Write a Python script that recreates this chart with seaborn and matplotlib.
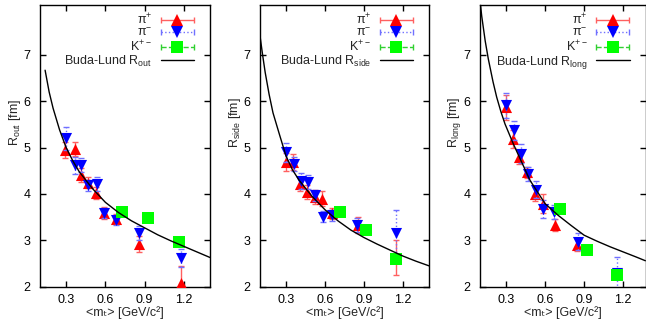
import numpy as np
import pandas as pd
import matplotlib
matplotlib.use('Agg')
import matplotlib.pyplot as plt
import seaborn as sns
from matplotlib.lines import Line2D
from matplotlib.collections import LineCollection
from matplotlib.container import ErrorbarContainer
from matplotlib.legend_handler import HandlerErrorbar

# ---------------- data ----------------
# Panel 1: R_out
pip_mt_out = [0.294, 0.364, 0.41, 0.464, 0.526, 0.588, 0.681, 0.86, 1.178]
pip_R_out = [4.95, 4.97, 4.41, 4.24, 4.02, 3.59, 3.46, 2.92, 2.09]
pip_e_out = [0.18, 0.15, 0.15, 0.12, 0.13, 0.12, 0.10, 0.17, 0.35]
pim_mt_out = [0.30, 0.364, 0.41, 0.464, 0.534, 0.59, 0.68, 0.86, 1.178]
pim_R_out = [5.20, 4.62, 4.62, 4.19, 4.21, 3.59, 3.44, 3.16, 2.62]
pim_e_out = [0.25, 0.18, 0.15, 0.12, 0.15, 0.10, 0.10, 0.15, 0.20]
k_mt_out = [0.728, 0.929, 1.162]
k_R_out = [3.61, 3.48, 2.97]
bl_mt_out = [0.139, 0.17, 0.2, 0.25, 0.3, 0.35, 0.4, 0.5, 0.6, 0.7, 0.8, 0.9, 1.0, 1.1, 1.2, 1.3, 1.4]
bl_R_out = [6.67, 6.20, 5.85, 5.38, 5.00, 4.72, 4.48, 4.12, 3.82, 3.60, 3.42, 3.27, 3.12, 2.99, 2.87, 2.75, 2.63]

# Panel 2: R_side
pip_mt_side = [0.30, 0.356, 0.407, 0.463, 0.522, 0.578, 0.655, 0.854, 1.148]
pip_R_side = [4.69, 4.69, 4.22, 4.04, 3.94, 3.90, 3.58, 3.33, 2.63]
pip_e_side = [0.20, 0.18, 0.15, 0.15, 0.15, 0.17, 0.12, 0.18, 0.38]
pim_mt_side = [0.30, 0.361, 0.415, 0.471, 0.522, 0.586, 0.65, 0.849, 1.148]
pim_R_side = [4.90, 4.65, 4.28, 4.26, 3.97, 3.51, 3.54, 3.33, 3.16]
pim_e_side = [0.20, 0.15, 0.18, 0.15, 0.12, 0.12, 0.12, 0.15, 0.50]
k_mt_side = [0.713, 0.918, 1.148]
k_R_side = [3.61, 3.23, 2.59]
bl_mt_side = [0.1, 0.12, 0.14, 0.17, 0.2, 0.25, 0.3, 0.35, 0.4, 0.5, 0.6, 0.7, 0.8, 0.9, 1.0, 1.1, 1.2, 1.3, 1.4]
bl_R_side = [7.41, 7.00, 6.62, 6.15, 5.75, 5.28, 4.82, 4.52, 4.30, 3.95, 3.66, 3.42, 3.22, 3.06, 2.92, 2.79, 2.66, 2.55, 2.45]

# Panel 3: R_long
pip_mt_long = [0.30, 0.356, 0.403, 0.464, 0.523, 0.587, 0.677, 0.844]
pip_R_long = [5.87, 5.19, 4.80, 4.47, 4.00, 3.79, 3.33, 2.91]
pip_e_long = [0.27, 0.20, 0.15, 0.12, 0.15, 0.20, 0.12, 0.15]
pim_mt_long = [0.30, 0.362, 0.413, 0.467, 0.531, 0.587, 0.669, 0.851, 1.155]
pim_R_long = [5.91, 5.37, 4.87, 4.44, 4.09, 3.68, 3.61, 2.97, 2.30]
pim_e_long = [0.27, 0.20, 0.20, 0.15, 0.18, 0.20, 0.15, 0.18, 0.35]
k_mt_long = [0.715, 0.921, 1.151]
k_R_long = [3.68, 2.80, 2.25]
bl_mt_long = [0.105, 0.113, 0.14, 0.164, 0.2, 0.228, 0.26, 0.292, 0.356, 0.408, 0.485, 0.6, 0.7, 0.8, 0.9, 1.0, 1.1, 1.2, 1.3, 1.37]
bl_R_long = [8.05, 7.84, 7.30, 6.91, 6.42, 6.09, 5.78, 5.51, 5.08, 4.76, 4.29, 3.79, 3.54, 3.32, 3.11, 2.98, 2.86, 2.75, 2.64, 2.56]

panel_names = ['out', 'side', 'long']
series_labels = ['π$^{+}$', 'π$^{-}$', 'K$^{+-}$']
x_label = '<mₜ> [GeV/c²]'
xticks = [0.3, 0.6, 0.9, 1.2]
xtick_labels = ['0.3', '0.6', '0.9', '1.2']
yticks = [2, 3, 4, 5, 6, 7]

panels = [
    (pip_mt_out, pip_R_out, pip_e_out, pim_mt_out, pim_R_out, pim_e_out, k_mt_out, k_R_out, bl_mt_out, bl_R_out),
    (pip_mt_side, pip_R_side, pip_e_side, pim_mt_side, pim_R_side, pim_e_side, k_mt_side, k_R_side, bl_mt_side, bl_R_side),
    (pip_mt_long, pip_R_long, pip_e_long, pim_mt_long, pim_R_long, pim_e_long, k_mt_long, k_R_long, bl_mt_long, bl_R_long),
]

# ---------------- style ----------------
sns.set_theme(style='ticks')
plt.rcParams['font.family'] = ['Liberation Sans', 'DejaVu Sans']
plt.rcParams['mathtext.fontset'] = 'custom'
plt.rcParams['mathtext.rm'] = 'Liberation Sans'
plt.rcParams['mathtext.it'] = 'Liberation Sans:italic'
plt.rcParams['mathtext.bf'] = 'Liberation Sans:bold'
plt.rcParams['mathtext.sf'] = 'Liberation Sans'
plt.rcParams['mathtext.default'] = 'regular'

FS = 9
W, H = 646, 320
fig = plt.figure(figsize=(W / 100, H / 100), dpi=100)
fig.patch.set_facecolor('white')

# axes boxes in pixels: left, right, top, bottom
boxes = [(40, 210, 5.3, 286.7), (260, 429, 5.3, 286.7), (480, 645.5, 5.3, 286.7)]
xlims = [(0.1, 1.4), (0.1, 1.4), (0.1, 1.371)]

RED, BLUE, GREEN = '#ff0000', '#0000ff', '#00ff00'
RED_E, BLUE_E, GREEN_E = '#ff6060', '#7070ff', '#30d030'


def proxy(color, marker, ecolor, ls):
    line = Line2D([], [], color=color, marker=marker, ls='none', ms=8.0, mew=0)
    bar = LineCollection([], colors=ecolor, linestyles=ls, linewidths=1.0)
    cap = Line2D([], [], color=ecolor, marker='|', ms=5, ls='none', mew=1.0)
    return ErrorbarContainer((line, (cap,), (bar,)), has_xerr=True, has_yerr=False)


for i, (name, data, box, xl) in enumerate(zip(panel_names, panels, boxes, xlims)):
    (pmt, pR, pe, mmt, mR, me, kmt, kR, bmt, bR) = data
    l, r, t, b = box
    ax = fig.add_axes([l / W, (H - b) / H, (r - l) / W, (b - t) / H])
    ax.set_facecolor('white')

    # pi+
    ax.errorbar(pmt, pR, yerr=pe, fmt='none', ecolor=RED_E, elinewidth=1.0,
                capsize=2.5, capthick=1.0, zorder=2)
    sns.scatterplot(x=pmt, y=pR, marker='^', s=64, color=RED, linewidth=0,
                    ax=ax, zorder=3, legend=False)
    # pi-
    eb = ax.errorbar(mmt, mR, yerr=me, fmt='none', ecolor=BLUE_E, elinewidth=1.0,
                     capsize=2.5, capthick=1.0, zorder=4)
    for c in eb[2]:
        c.set_linestyle(':')
    sns.scatterplot(x=mmt, y=mR, marker='v', s=64, color=BLUE, linewidth=0,
                    ax=ax, zorder=5, legend=False)
    # K
    sns.scatterplot(x=kmt, y=kR, marker='s', s=72, color=GREEN, linewidth=0,
                    ax=ax, zorder=6, legend=False)
    # Buda-Lund curve
    sns.lineplot(x=bmt, y=bR, color='black', linewidth=1.0, sort=False,
                 ax=ax, zorder=7, legend=False)

    ax.set_xlim(*xl)
    ax.set_ylim(2, 8.07)
    ax.set_xticks(xticks)
    ax.set_xticklabels(xtick_labels)
    ax.set_yticks(yticks)
    ax.tick_params(direction='in', length=4, width=1, top=True, right=True,
                   labelsize=FS, pad=7, colors='black')
    ax.tick_params(axis='x', pad=5.5)
    for s in ax.spines.values():
        s.set_visible(True)
        s.set_linewidth(1.0)
        s.set_color('black')

    ax.set_ylabel(r'R$_{\mathrm{%s}}$ [fm]' % name, fontsize=FS)
    ax.yaxis.set_label_coords(-17 / (r - l), 0.585)
    ax.set_xlabel(x_label, fontsize=FS, labelpad=0)

    handles = [proxy(RED, '^', RED_E, '-'), proxy(BLUE, 'v', BLUE_E, ':'),
               proxy(GREEN, 's', GREEN_E, '--'),
               Line2D([], [], color='black', lw=1.0)]
    labels = series_labels + [r'Buda-Lund R$_{\mathrm{%s}}$' % name]
    ax.legend(handles, labels, loc='upper right',
              bbox_to_anchor=(1 - 16 / (r - l), 0.975), frameon=False,
              markerfirst=False, handlelength=2.65, handletextpad=0.7,
              labelspacing=-0.03, borderpad=0, borderaxespad=0, fontsize=FS,
              handler_map={ErrorbarContainer: HandlerErrorbar(xerr_size=1.32)})

fig.savefig('out.png', dpi=100, facecolor='white')
